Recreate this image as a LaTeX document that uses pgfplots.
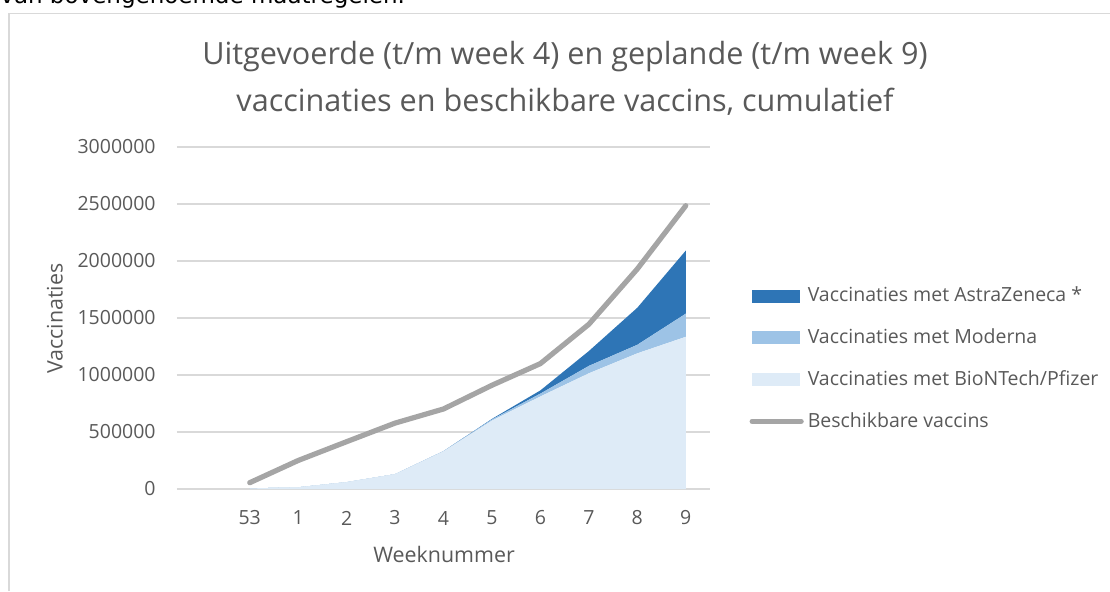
\documentclass[border=0pt]{standalone}
\usepackage{pgfplots}
\pgfplotsset{compat=1.18}
\usepackage{fontspec}
\setmainfont{Open Sans}
\newfontfamily\topfont{DejaVu Sans}
\definecolor{txt}{HTML}{595959}
\definecolor{gridc}{HTML}{D9D9D9}
\definecolor{az}{HTML}{2E75B6}
\definecolor{mod}{HTML}{9DC3E6}
\definecolor{bnt}{HTML}{DEEBF7}
\definecolor{linec}{HTML}{A5A5A5}
\begin{document}
\begin{tikzpicture}
\useasboundingbox (0pt,0pt) rectangle (555pt,295.5pt);
\begin{scope}[x=0.5pt,y=0.5pt]
% frame of the chart object (pixel coords, y measured upward: Y = 591 - py)
\draw[gridc, line width=0.6pt] (9,0) -- (9,577.5) -- (1115,577.5);
% cut-off text above the chart
\node[anchor=base west, inner sep=0pt, font=\topfont\fontsize{11.5}{13}\selectfont, text=black] at (0,587.5) {van bovengenoemde maatregelen.};
% title
\node[align=center, text=txt, font=\fontsize{15.3}{23.5}\selectfont] at (565,512.5)
  {Uitgevoerde (t/m week 4) en geplande (t/m week 9)\\vaccinaties en beschikbare vaccins, cumulatief};
\end{scope}
\begin{axis}[
  at={(88.5pt,51pt)}, anchor=south west,
  scale only axis, width=266.5pt, height=171pt,
  xmin=-1.5, xmax=9.5, ymin=0, ymax=3000000,
  xtick={0,1,2,3,4,5,6,7,8,9},
  xticklabels={53,1,2,3,4,5,6,7,8,9},
  ytick={0,500000,1000000,1500000,2000000,2500000,3000000},
  scaled y ticks=false,
  /pgf/number format/assume math mode=true,
  yticklabel={\pgfmathprintnumber[fixed,1000 sep={}]{\tick}},
  major tick length=0pt,
  axis line style={draw=none},
  xmajorgrids=false, ymajorgrids=true,
  major grid style={draw=gridc, line width=0.9pt},
  tick label style={text=txt, font=\fontsize{9.75}{11}\selectfont},
  xticklabel style={anchor=center, yshift=-14.5pt},
  yticklabel style={anchor=east, inner sep=0pt, xshift=-10.5pt},
  xlabel={Weeknummer}, ylabel={Vaccinaties},
  label style={text=txt, font=\fontsize{10.7}{12}\selectfont},
  xlabel style={at={(rel axis cs:0.501,-0.19)}, anchor=center},
  ylabel style={at={(rel axis cs:-0.229,0.4985)}, anchor=center},
  clip=false,
  legend cell align=left,
  legend style={draw=none, fill=none, at={(rel axis cs:1.0735,0.603)}, anchor=north west,
    font=\fontsize{9.75}{11}\selectfont, text=txt, row sep=7.95pt, inner sep=0pt,
    /tikz/every even column/.append style={column sep=0pt}},
  stack plots=y,
]
% stacked areas (BioNTech/Pfizer, Moderna, AstraZeneca)
\addplot[fill=bnt, draw=none, forget plot] coordinates {
  (0,5000) (1,15000) (2,60000) (3,130000) (4,330000) (5,600000) (6,812000) (7,1015000) (8,1190000) (9,1335000)} \closedcycle;
\addplot[fill=mod, draw=none, forget plot] coordinates {
  (0,0) (1,0) (2,0) (3,0) (4,2000) (5,10000) (6,25000) (7,65000) (8,75000) (9,203000)} \closedcycle;
\addplot[fill=az, draw=none, forget plot] coordinates {
  (0,0) (1,0) (2,0) (3,0) (4,0) (5,5000) (6,28000) (7,130000) (8,325000) (9,553000)} \closedcycle;
% available vaccines (not stacked)
\addplot[linec, line width=2.6pt, line cap=round, line join=round, stack plots=false, forget plot] coordinates {
  (0,55000) (1,250000) (2,415000) (3,578000) (4,702000) (5,910000) (6,1100000) (7,1445000) (8,1930000) (9,2485000)};
% legend
\addlegendimage{legend image code/.code={\fill[az] (0pt,-3pt) rectangle (23.5pt,3pt);}}
\addlegendentry{Vaccinaties met AstraZeneca *}
\addlegendimage{legend image code/.code={\fill[mod] (0pt,-3pt) rectangle (23.5pt,3pt);}}
\addlegendentry{Vaccinaties met Moderna}
\addlegendimage{legend image code/.code={\fill[bnt] (0pt,-3pt) rectangle (23.5pt,3pt);}}
\addlegendentry{Vaccinaties met BioNTech/Pfizer}
\addlegendimage{legend image code/.code={\draw[linec, line width=2.6pt, line cap=round] (0pt,0pt) -- (24.5pt,0pt);}}
\addlegendentry{Beschikbare vaccins}
\end{axis}
\end{tikzpicture}
\end{document}
